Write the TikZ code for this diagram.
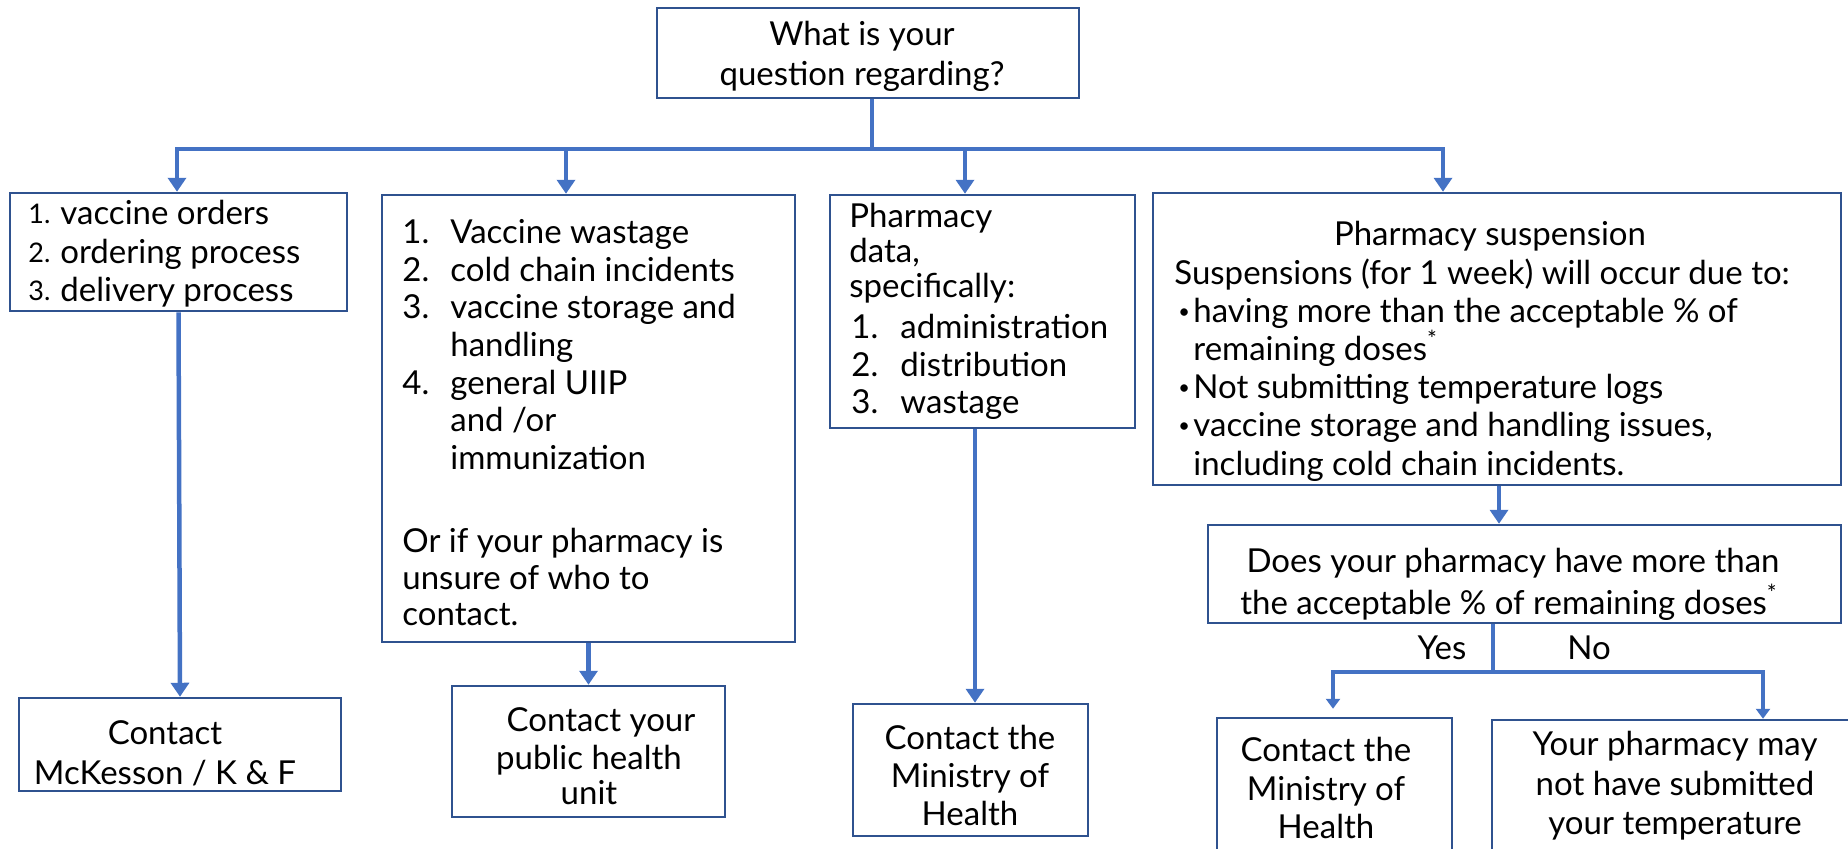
\documentclass[tikz,border=0pt]{standalone}
\usepackage{fontspec}
\setmainfont{Lato}
\usepackage{xcolor}
\usetikzlibrary{positioning,arrows.meta,calc}

\definecolor{lineblue}{HTML}{4472C4}
\definecolor{boxblue}{HTML}{2F528F}

\tikzset{
  qbox/.style={draw=boxblue, line width=1.25pt, inner sep=0pt},
  boxsize/.style 2 args={minimum width=#1*0.5pt, minimum height=#2*0.5pt},
  txt/.style={inner sep=0pt, font=\fontsize{16.5}{19}\selectfont},
  lft/.style={txt, anchor=mid west},
  ctr/.style={txt, anchor=mid},
  smallnum/.style={lft, font=\fontsize{13.5}{14}\selectfont},
  blt/.style={inner sep=0pt, anchor=mid west, font=\fontsize{10}{10}\selectfont},
  link/.style={draw=lineblue, line width=2.25pt},
  arr/.style={link, -{Triangle[width=9pt,length=7pt]}},
  smalllink/.style={draw=lineblue, line width=1.6pt},
  smallarr/.style={smalllink, -{Triangle[width=7pt,length=5pt]}}
}

\begin{document}
\begin{tikzpicture}[x=0.5pt, y=-0.5pt]
  \useasboundingbox (0,0) rectangle (1848,848);

  % the boxes, placed at their centres
  \node[qbox, boxsize={422}{90}]  (top)   at (868,53)     {};
  \node[qbox, boxsize={337}{118}] (ord)   at (178.5,252)  {};
  \node[qbox, boxsize={413}{447}] (waste) at (588.5,418.5){};
  \node[qbox, boxsize={305}{233}] (data)  at (982.5,311.5){};
  \node[qbox, boxsize={688}{292}] (susp)  at (1497,339)   {};
  \node[qbox, boxsize={633}{98}]  (dec)   at (1524.5,574) {};
  \node[qbox, boxsize={322}{93}]  (mck)   at (180,744.5)  {};
  \node[qbox, boxsize={273}{131}] (phu)   at (588.5,751.5){};
  \node[qbox, boxsize={235}{132}] (moh)   at (970.5,770)  {};
  % these two run off the bottom (and right) of the page
  \node[qbox, boxsize={235}{162}] (mohyes) at (1334.5,799){};
  \node[qbox, boxsize={388}{160}] (nolog)  at (1686,800)  {};

  % top question
  \node[ctr] (q1) at (862,40) {What is your};
  \node[ctr] (q2) at (862,80) {question regarding?};

  % box 1
  \foreach \t [count=\i] in {vaccine orders, ordering process, delivery process}{
    \node[smallnum] (ordn\i) at (28,{180+38.5*\i}) {\i.};
    \node[lft] (ordt\i) at (60,{181+38.5*\i}) {\t};
  }

  % box 2
  \foreach \t [count=\i] in {Vaccine wastage, cold chain incidents, vaccine storage and, handling, general UIIP, and /or, immunization}
    \node[lft] (wt\i) at (450,{201+37.6*\i}) {\t};
  \foreach \n/\l in {1/1, 2/2, 3/3, 4/5}
    \node[lft] (wn\n) at (402,{201+37.6*\l}) {\n.};
  \foreach \t [count=\i] in {Or if your pharmacy is, unsure of who to, contact.}
    \node[lft] (wo\i) at (402,{511+36.5*\i}) {\t};

  % box 3
  \foreach \t [count=\i] in {Pharmacy, {data,}, specifically:}
    \node[lft] (dh\i) at (849,{187+35*\i}) {\t};
  \foreach \t [count=\i] in {administration, distribution, wastage}{
    \node[lft] (dn\i) at (851,{296+37.5*\i}) {\i.};
    \node[lft] (dt\i) at (900,{296+37.5*\i}) {\t};
  }

  % box 4
  \node[ctr] (s0) at (1490,240) {Pharmacy suspension};
  \node[lft] (s1) at (1174,279) {Suspensions (for 1 week) will occur due to:};
  \foreach \t [count=\i] in {having more than the acceptable \% of, remaining doses\textsuperscript{*}, Not submitting temperature logs, {vaccine storage and handling issues,}, including cold chain incidents.}
    \node[lft] (sl\i) at (1193,{279+38.2*\i}) {\t};
  \foreach \i in {1,3,4}
    \node[blt] (sb\i) at (1178,{275+38.2*\i}) {•};

  % the yes / no question
  \node[ctr] (d1) at (1513,567) {Does your pharmacy have more than};
  \node[ctr] (d2) at (1509,609) {the acceptable \% of remaining doses\textsuperscript{*}};
  \node[ctr] (yes) at (1442,654) {Yes};
  \node[ctr] (no)  at (1589,654) {No};

  % answers
  \node[ctr] (m1) at (165,739) {Contact};
  \node[ctr] (m2) at (165,779) {McKesson / K \& F};
  \node[ctr] (p1) at (601,726) {Contact your};
  \node[ctr] (p2) at (589,764) {public health};
  \node[ctr] (p3) at (589,799) {unit};
  \foreach \t [count=\i] in {Contact the, Ministry of, Health}{
    \node[ctr] (h\i) at (970,{706+38*\i}) {\t};
    \node[ctr] (y\i) at (1326,{718+38.5*\i}) {\t};
  }
  \foreach \t [count=\i] in {Your pharmacy may, not have submitted, your temperature}
    \node[ctr] (n\i) at (1675,{711+39.5*\i}) {\t};

  % connectors
  \coordinate (b1) at (177,149);
  \coordinate (b2) at (566,149);
  \coordinate (b3) at (965,149);
  \coordinate (b4) at (1443,149);
  \draw[link] (top.south -| 872,0) -- (872,149);
  \draw[link, line cap=rect] (b1) -- (b4);
  \foreach \b/\n in {b1/ord, b2/waste, b3/data, b4/susp}
    \draw[arr] (\b) -- (\b |- \n.north);

  \draw[arr] (ord.south) -- (mck.north);
  \draw[arr] (waste.south) -- (phu.north);
  \draw[arr] ([xshift=-3.75pt]data.south) -- ([xshift=2.25pt]moh.north);
  \draw[arr] ([xshift=1pt]susp.south) -- ([xshift=1pt]susp.south |- dec.north);

  \coordinate (yn) at (1493,672);
  \coordinate (yl) at (1333,672);
  \coordinate (nr) at (1763,672);
  \draw[smalllink] (yn |- dec.south) -- (yn);
  \draw[smalllink, line cap=rect] (yl) -- (nr);
  \draw[smallarr, shorten >=4pt] (yl) -- (yl |- mohyes.north);
  \draw[smallarr] (nr) -- (nr |- nolog.north);
\end{tikzpicture}
\end{document}
